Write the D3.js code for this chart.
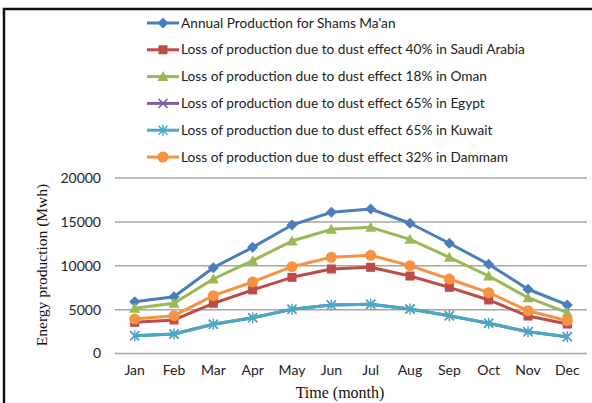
<!DOCTYPE html>
<html><head><meta charset="utf-8">
<script src="https://cdn.jsdelivr.net/npm/d3@7"></script>
<style>body{margin:0;background:#fff}svg{display:block}</style>
</head><body>
<svg id="c" width="592" height="403"></svg>
<script>
const months = ["Jan","Feb","Mar","Apr","May","Jun","Jul","Aug","Sep","Oct","Nov","Dec"];
const yTicks = [0,5000,10000,15000,20000];
const seriesNames = [
  "Annual Production for Shams Ma'an",
  "Loss of production due to dust effect 40% in Saudi Arabia",
  "Loss of production due to dust effect 18% in Oman",
  "Loss of production due to dust effect 65% in Egypt",
  "Loss of production due to dust effect 65% in Kuwait",
  "Loss of production due to dust effect 32% in Dammam"
];
const annual = [5900,6470,9780,12100,14640,16090,16470,14840,12560,10170,7320,5530];
const saudi  = [3550,3820,5720,7240,8680,9630,9820,8830,7540,6100,4270,3360];
const oman   = [5150,5720,8490,10580,12820,14150,14380,13010,10960,8830,6360,4650];
const egypt  = [2030,2220,3330,4080,5040,5530,5610,5070,4310,3440,2480,1910];
const kuwait = [2030,2220,3330,4080,5040,5530,5610,5070,4310,3440,2480,1910];
const dammam = [3930,4310,6590,8150,9890,10960,11190,10010,8490,6930,4880,3740];

const colors = ["#4A7EBB","#BE4B48","#98B954","#7D60A0","#46AAC5","#F69240"];
const markers = ["diamond","square","triangle","x","asterisk","circle"];
const data = [annual,saudi,oman,egypt,kuwait,dammam];

const svg = d3.select("#c");
// frame
svg.append("path").attr("d","M4,403 V9 H592").attr("fill","none").attr("stroke","#111").attr("stroke-width",2.5);

const x = d3.scaleBand().domain(months).range([115,587]);
const y = d3.scaleLinear().domain([0,20000]).range([353.5,178]);

// grid
svg.append("g").selectAll("line").data(yTicks).join("line")
  .attr("x1",115).attr("x2",587).attr("y1",d=>y(d)).attr("y2",d=>y(d))
  .attr("stroke","#a6a6a6").attr("stroke-width",1.5);

// y axis labels
const yAxis = d3.axisLeft(y).tickValues(yTicks).tickSize(0).tickPadding(0).tickFormat(d3.format("d"));
const gy = svg.append("g").attr("transform","translate(101,0)").call(yAxis);
gy.select(".domain").remove();
gy.selectAll("text").attr("font-family","Lato, 'Open Sans', sans-serif").attr("font-size",14).attr("fill","#222");

const xAxis = d3.axisBottom(x).tickSize(0).tickPadding(0);
const gx = svg.append("g").attr("transform","translate(0,365)").call(xAxis);
gx.select(".domain").remove();
gx.selectAll("text").attr("font-family","Lato, 'Open Sans', sans-serif").attr("font-size",14).attr("fill","#222");

svg.append("text").attr("transform","translate(47,265) rotate(-90)").attr("text-anchor","middle")
  .attr("font-family","'Liberation Serif','Times New Roman',serif").attr("font-size",15.5).attr("fill","#111")
  .text("Energy production (Mwh)");
svg.append("text").attr("x",340).attr("y",398).attr("text-anchor","middle")
  .attr("font-family","'Liberation Serif','Times New Roman',serif").attr("font-size",16).attr("fill","#111")
  .text("Time (month)");

function drawMarker(g, type, color, cx, cy){
  if(type==="diamond"){
    g.append("path").attr("d",`M${cx},${cy-5.5}L${cx+5.5},${cy}L${cx},${cy+5.5}L${cx-5.5},${cy}Z`).attr("fill",color);
  } else if(type==="square"){
    g.append("rect").attr("x",cx-4.5).attr("y",cy-4.5).attr("width",9).attr("height",9).attr("fill",color);
  } else if(type==="triangle"){
    g.append("path").attr("d",`M${cx},${cy-5.5}L${cx+5.5},${cy+4.5}L${cx-5.5},${cy+4.5}Z`).attr("fill",color);
  } else if(type==="circle"){
    g.append("circle").attr("cx",cx).attr("cy",cy).attr("r",5.5).attr("fill",color);
  } else if(type==="x"){
    g.append("path").attr("d",`M${cx-4.5},${cy-4.5}L${cx+4.5},${cy+4.5}M${cx-4.5},${cy+4.5}L${cx+4.5},${cy-4.5}`).attr("stroke",color).attr("stroke-width",1.5);
  } else if(type==="asterisk"){
    g.append("path").attr("d",`M${cx-4.5},${cy-4.5}L${cx+4.5},${cy+4.5}M${cx-4.5},${cy+4.5}L${cx+4.5},${cy-4.5}M${cx},${cy-5.5}L${cx},${cy+5.5}`).attr("stroke",color).attr("stroke-width",1.5);
  }
}

const line = d3.line().x((d,i)=>x(months[i])+x.bandwidth()/2).y(d=>y(d));
data.forEach((vals,k)=>{
  const g = svg.append("g");
  g.append("path").datum(vals).attr("d",line).attr("fill","none").attr("stroke",colors[k]).attr("stroke-width",3).attr("stroke-linejoin","round");
  vals.forEach((v,i)=>drawMarker(g, markers[k], colors[k], x(months[i])+x.bandwidth()/2, y(v)));
});

// legend
const leg = svg.append("g");
seriesNames.forEach((name,k)=>{
  const ly = 23 + k*26.8;
  const g = leg.append("g");
  g.append("line").attr("x1",147).attr("x2",179).attr("y1",ly).attr("y2",ly).attr("stroke",colors[k]).attr("stroke-width",3);
  drawMarker(g, markers[k], colors[k], 163, ly);
  g.append("text").attr("x",181).attr("y",ly+4.5).attr("font-family","Lato, 'Open Sans', sans-serif").attr("font-size",13.7).attr("fill","#222").text(name);
});
</script>
</body></html>
